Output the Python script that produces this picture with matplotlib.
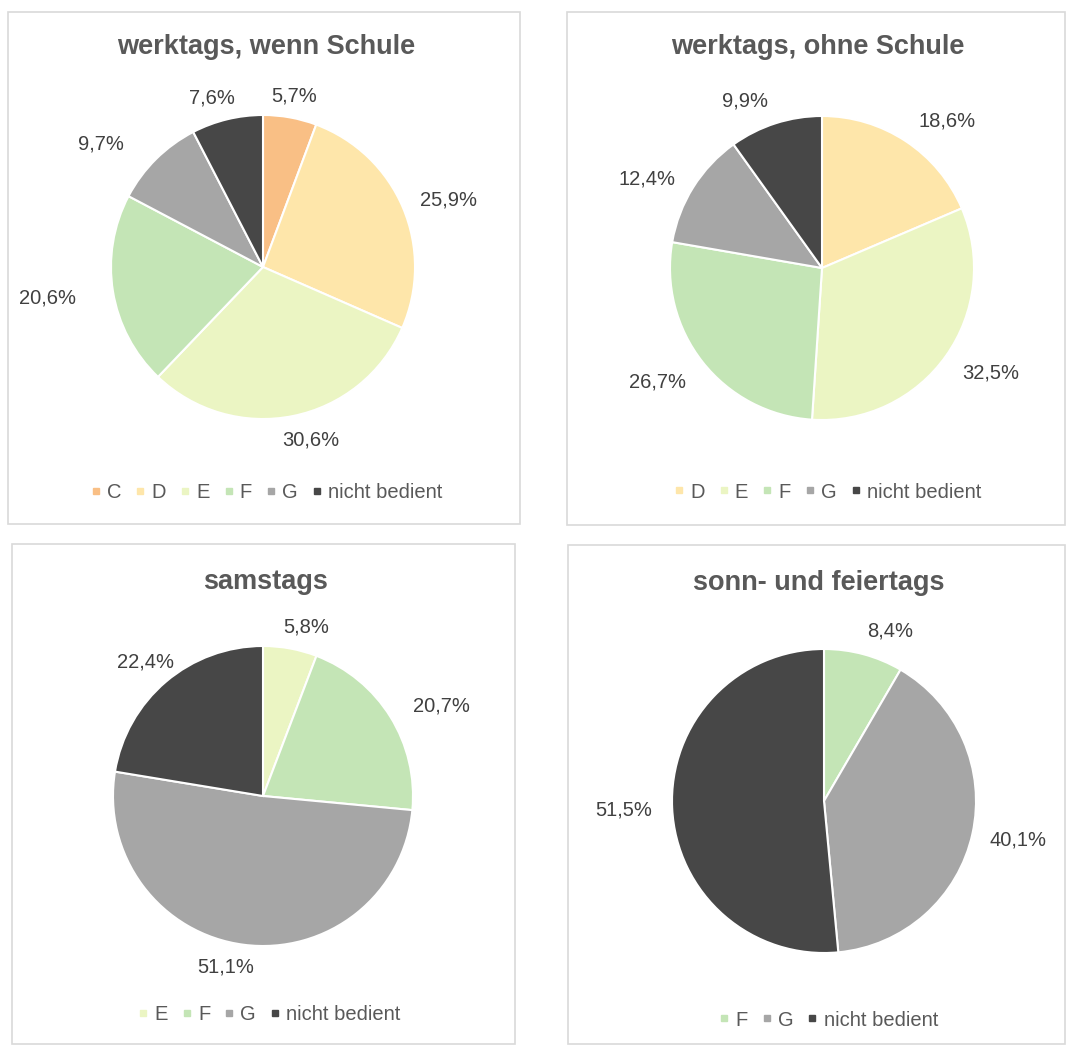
import matplotlib
matplotlib.use("Agg")
import matplotlib.pyplot as plt
from matplotlib.lines import Line2D
from matplotlib.patches import Rectangle
import numpy as np

plt.rcParams["font.family"] = ["Liberation Sans", "DejaVu Sans"]

# ---- data -------------------------------------------------------------
titles = ["werktags, wenn Schule", "werktags, ohne Schule",
          "samstags", "sonn- und feiertags"]

cats_schule = ["C", "D", "E", "F", "G", "nicht bedient"]
vals_schule = [5.7, 25.9, 30.6, 20.6, 9.7, 7.6]

cats_ohne = ["D", "E", "F", "G", "nicht bedient"]
vals_ohne = [18.6, 32.5, 26.7, 12.4, 9.9]

cats_sa = ["E", "F", "G", "nicht bedient"]
vals_sa = [5.8, 20.7, 51.1, 22.4]

cats_so = ["F", "G", "nicht bedient"]
vals_so = [8.4, 40.1, 51.5]

# ---- styling ----------------------------------------------------------
palette = {
    "C": "#F9BF85",
    "D": "#FEE6AA",
    "E": "#EBF5C3",
    "F": "#C4E5B6",
    "G": "#A6A6A6",
    "nicht bedient": "#474747",
}

W, H = 1067, 1046
fig = plt.figure(figsize=(W / 100, H / 100), dpi=100)
fig.patch.set_facecolor("white")


def fx(x):
    return x / W


def fy(y):
    return 1 - y / H


# panel frames (left, top, right, bottom) in pixels
frames = [(8, 12, 520, 524), (567, 12, 1065, 525),
          (12, 544, 515, 1044), (568, 545, 1065, 1044)]
# pie centre and radius in pixels
pies = [(263, 267, 152), (822, 268, 152), (263, 796, 150), (824, 801, 152)]
title_y = [47, 47, 582, 583]
legend_pos = [(267, 493), (828, 492), (270, 1015), (829, 1020)]
# value-label placement: distance (in pie radii) and angular nudge (deg)
label_r = [
    [1.14, 1.30, 1.18, 1.43, 1.34, 1.16],
    [1.27, 1.31, 1.32, 1.29, 1.21],
    [1.16, 1.33, 1.17, 1.19],
    [1.20, 1.30, 1.32],
]
label_dt = [
    [0, -3, 4, -1, 8, 3],
    [-7, 3.5, -3.5, 5, 7],
    [-4, -5, -5, 1],
    [-6, 1, 0],
]

panels = [(cats_schule, vals_schule), (cats_ohne, vals_ohne),
          (cats_sa, vals_sa), (cats_so, vals_so)]

for i, (cats, vals) in enumerate(panels):
    l, t, r, b = frames[i]
    fig.patches.append(Rectangle((fx(l), fy(b)), fx(r - l), (b - t) / H,
                                 transform=fig.transFigure, fill=False,
                                 edgecolor="#D9D9D9", linewidth=1.2))
    cx, cy, rad = pies[i]
    ax = fig.add_axes([fx(cx - rad), fy(cy + rad), 2 * rad / W, 2 * rad / H])
    wedges, _ = ax.pie(vals, colors=[palette[c] for c in cats],
                       startangle=90, counterclock=False, radius=1.0,
                       wedgeprops=dict(edgecolor="white", linewidth=1.5))
    ax.set_xlim(-1, 1)
    ax.set_ylim(-1, 1)
    ax.axis("off")
    for w, v, lr, dt in zip(wedges, vals, label_r[i], label_dt[i]):
        mid = np.deg2rad((w.theta1 + w.theta2) / 2 + dt)
        ax.text(lr * np.cos(mid), lr * np.sin(mid),
                f"{v:.1f}%".replace(".", ","),
                ha="center", va="center", fontsize=14.5, color="#404040",
                clip_on=False)

    fig.text(fx((l + r) / 2 + 2), fy(title_y[i]), titles[i],
             ha="center", va="center", fontsize=19.5, fontweight="bold",
             color="#595959")

    handles = [Line2D([], [], marker="s", linestyle="", markersize=5,
                      color=palette[c]) for c in cats]
    lx, ly = legend_pos[i]
    fig.legend(handles, cats, loc="center", bbox_to_anchor=(fx(lx), fy(ly)),
               ncol=len(cats), frameon=False, fontsize=14.5,
               handlelength=0.4, handletextpad=0.35, columnspacing=0.75,
               labelcolor="#595959")

fig.savefig("out.png", dpi=100, facecolor="white")
